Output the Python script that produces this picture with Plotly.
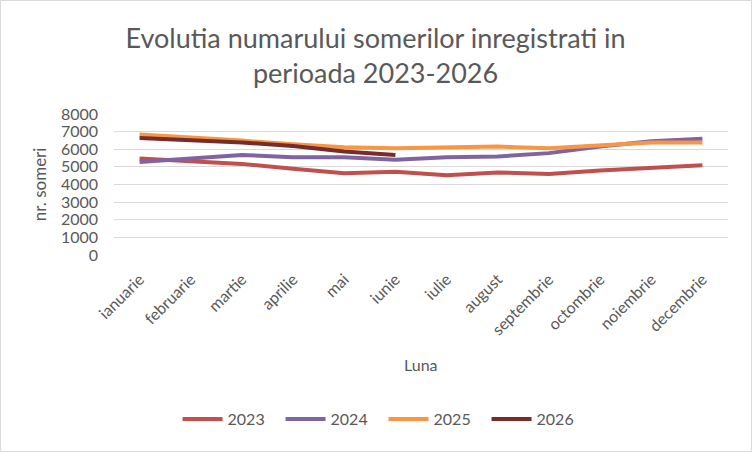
import plotly.graph_objects as go

months = ["ianuarie", "februarie", "martie", "aprilie", "mai", "iunie",
          "iulie", "august", "septembrie", "octombrie", "noiembrie", "decembrie"]
v2023 = [5470, 5340, 5170, 4890, 4640, 4730, 4530, 4680, 4600, 4790, 4940, 5090]
v2024 = [5280, 5490, 5680, 5550, 5550, 5400, 5550, 5590, 5780, 6150, 6450, 6590]
v2025 = [6830, 6680, 6490, 6280, 6110, 6060, 6090, 6150, 6060, 6230, 6380, 6380]
v2026 = [6640, 6530, 6380, 6190, 5870, 5680]
series = [("2023", v2023, "#C0504D"), ("2024", v2024, "#8064A2"),
          ("2025", v2025, "#F79646"), ("2026", v2026, "#772C2A")]

FONT = "Lato"
GREY = "#595959"

fig = go.Figure()
for name, vals, col in series:
    fig.add_trace(go.Scatter(x=months[:len(vals)], y=vals, mode="lines", name=name,
                             line=dict(color=col, width=4)))

fig.update_layout(
    width=752, height=452,
    margin=dict(l=114, r=24, t=114, b=197),
    paper_bgcolor="white", plot_bgcolor="white",
    font=dict(family=FONT, color=GREY, size=14),
    title=dict(text="Evolutia numarului somerilor inregistrati in<br>perioada 2023-2026",
               x=0.426, xref="paper", xanchor="center", y=0.893, yanchor="middle",
               font=dict(family=FONT, size=27, color=GREY)),
    showlegend=True,
    legend=dict(orientation="h", x=0.439, xanchor="center", y=-1.163, yanchor="middle",
                font=dict(size=16, color=GREY), itemwidth=40, tracegroupgap=0,
                entrywidth=48, entrywidthmode="pixels"),
    xaxis=dict(type="category", categoryorder="array", categoryarray=months,
               range=[-0.5, 11.5], tickangle=-45, showgrid=False, showline=False,
               ticks="", tickfont=dict(size=16, color=GREY), ticklabelstandoff=11),
    yaxis=dict(range=[0, 8000], dtick=1000, showgrid=True, gridcolor="#D9D9D9",
               gridwidth=1, zeroline=False, ticks="", tickfont=dict(size=16, color=GREY),
               ticklabelstandoff=15),
    annotations=[
        dict(text="Luna", xref="paper", yref="paper", x=0.5, y=-0.78, showarrow=False,
             xanchor="center", yanchor="middle", font=dict(size=16, color=GREY)),
        dict(text="nr. someri", xref="paper", yref="paper", x=-0.121, xanchor="center",
             y=0.5, yanchor="middle", textangle=-90, showarrow=False,
             font=dict(size=17, color=GREY)),
    ],
    shapes=[dict(type="rect", xref="paper", yref="paper", x0=-113.5/614, x1=1 + 23.5/614,
                 y0=-196.5/141, y1=1 + 113.5/141, line=dict(color="#D9D9D9", width=1))],
)

fig.write_html("out.html", config={"displayModeBar": False},
               post_script="document.body.style.margin='0';")
